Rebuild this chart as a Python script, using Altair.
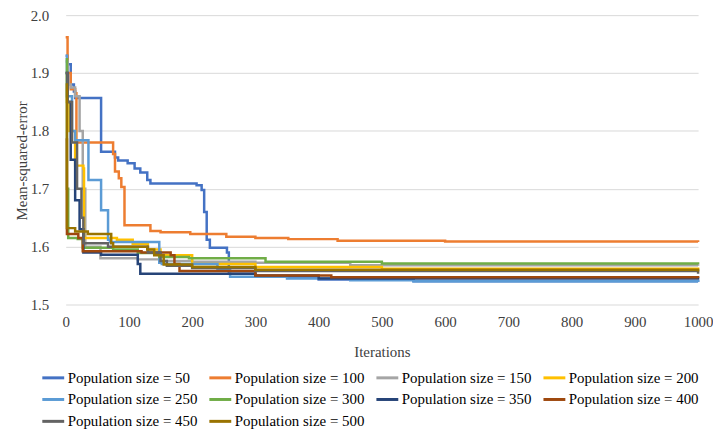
import altair as alt
import pandas as pd

sizes = [50, 100, 150, 200, 250, 300, 350, 400, 450, 500]
colors = ["#4472C4", "#ED7D31", "#A5A5A5", "#FFC000", "#5B9BD5",
          "#70AD47", "#264478", "#9E480E", "#636363", "#997300"]

s50_x = [0, 3, 8, 13, 15, 56, 78, 83, 98, 109, 118, 129, 134, 207, 215, 219, 223, 228, 255, 258, 300, 400, 550, 1000]
s50_y = [1.93, 1.915, 1.88, 1.868, 1.857, 1.764, 1.754, 1.749, 1.744, 1.735, 1.728, 1.715, 1.709, 1.706, 1.698, 1.66, 1.612, 1.598, 1.59, 1.553, 1.548, 1.543, 1.54, 1.539]

s100_x = [0, 3, 8, 15, 17, 75, 78, 84, 88, 93, 134, 150, 197, 254, 300, 352, 430, 600, 1000]
s100_y = [1.962, 1.9, 1.872, 1.865, 1.78, 1.76, 1.73, 1.718, 1.703, 1.637, 1.627, 1.625, 1.622, 1.617, 1.615, 1.613, 1.61, 1.609, 1.608]

s150_x = [0, 3, 8, 15, 22, 27, 31, 55, 114, 150, 200, 300, 450, 1000]
s150_y = [1.92, 1.88, 1.875, 1.86, 1.8, 1.7, 1.6, 1.58, 1.578, 1.575, 1.574, 1.572, 1.568, 1.567]

s200_x = [0, 2, 6, 15, 28, 29, 81, 106, 130, 150, 200, 300, 500, 1000]
s200_y = [1.9, 1.85, 1.8, 1.74, 1.735, 1.615, 1.612, 1.605, 1.595, 1.585, 1.57, 1.565, 1.562, 1.56]

s250_x = [0, 2, 10, 15, 36, 56, 67, 70, 148, 152, 240, 260, 350, 450, 550, 1000]
s250_y = [1.93, 1.86, 1.8, 1.784, 1.715, 1.663, 1.612, 1.608, 1.572, 1.57, 1.562, 1.548, 1.545, 1.542, 1.54, 1.539]

s300_x = [0, 2, 4, 19, 27, 75, 114, 148, 195, 316, 500, 1000]
s300_y = [1.924, 1.7, 1.615, 1.613, 1.598, 1.595, 1.589, 1.582, 1.58, 1.574, 1.571, 1.57]

s350_x = [0, 3, 8, 15, 22, 28, 56, 114, 118, 300, 400, 1000]
s350_y = [1.9, 1.85, 1.75, 1.68, 1.63, 1.59, 1.586, 1.57, 1.553, 1.55, 1.545, 1.543]

s400_x = [0, 2, 20, 27, 120, 166, 172, 180, 300, 420, 1000]
s400_y = [1.785, 1.622, 1.615, 1.592, 1.59, 1.585, 1.57, 1.558, 1.55, 1.547, 1.546]

s450_x = [0, 3, 10, 18, 25, 28, 67, 130, 150, 160, 200, 300, 1000]
s450_y = [1.9, 1.85, 1.78, 1.7, 1.65, 1.606, 1.6, 1.59, 1.575, 1.567, 1.563, 1.558, 1.553]

s500_x = [0, 2, 15, 35, 72, 75, 129, 140, 155, 200, 300, 1000]
s500_y = [1.88, 1.632, 1.626, 1.622, 1.606, 1.6, 1.595, 1.585, 1.569, 1.565, 1.56, 1.557]

series_x = [s50_x, s100_x, s150_x, s200_x, s250_x, s300_x, s350_x, s400_x, s450_x, s500_x]
series_y = [s50_y, s100_y, s150_y, s200_y, s250_y, s300_y, s350_y, s400_y, s450_y, s500_y]

rows = []
for i, (sz, xs, ys) in enumerate(zip(sizes, series_x, series_y)):
    name = f"Population size = {sz}"
    for x, y in zip(xs, ys):
        rows.append({"Iterations": x, "MSE": y, "Series": name, "order": i})
df = pd.DataFrame(rows)
labels = [f"Population size = {s}" for s in sizes]

FONT = "serif"

chart = alt.Chart(df).mark_line(interpolate="step-after", strokeWidth=2.5).encode(
    x=alt.X("Iterations:Q",
            scale=alt.Scale(domain=[0, 1000], nice=False),
            axis=alt.Axis(values=list(range(0, 1001, 100)), format="d", grid=False,
                          ticks=False, domain=False, labelPadding=10, labelFlush=False,
                          title="Iterations", titleX=318, titleY=47,
                          titleBaseline="middle", titleFontWeight="normal")),
    y=alt.Y("MSE:Q",
            scale=alt.Scale(domain=[1.5, 2.0], nice=False, zero=False),
            axis=alt.Axis(values=[1.5, 1.6, 1.7, 1.8, 1.9, 2.0], format=".1f",
                          ticks=False, domain=False, labelPadding=17,
                          gridColor="#D9D9D9", gridWidth=1,
                          title="Mean-squared-error", titleX=-44, titleY=146,
                          titleAngle=-90, titleAlign="center", titleBaseline="middle",
                          titleFontWeight="normal")),
    color=alt.Color("Series:N",
                    scale=alt.Scale(domain=labels, range=colors),
                    sort=labels,
                    legend=alt.Legend(title=None, orient="none", legendX=-25, legendY=352,
                                      direction="horizontal",
                                      columns=4, symbolType="stroke", symbolStrokeWidth=3,
                                      symbolSize=484, labelOffset=2, columnPadding=5,
                                      rowPadding=1, labelFontSize=15, labelFont=FONT,
                                      labelLimit=400, labelColor="#000000")),
    detail="order:O",
    order="order:Q",
).properties(
    width=636, height=291,
    autosize=alt.AutoSizeParams(type="none"),
    padding={"left": 58, "top": 6, "right": 15, "bottom": 125},
).configure_view(stroke=None).configure_axis(
    labelFont=FONT, titleFont=FONT, labelFontSize=15, titleFontSize=15,
    labelColor="#404040", titleColor="#404040",
)

chart.save("out.html", embed_options={"renderer": "svg", "actions": False})
